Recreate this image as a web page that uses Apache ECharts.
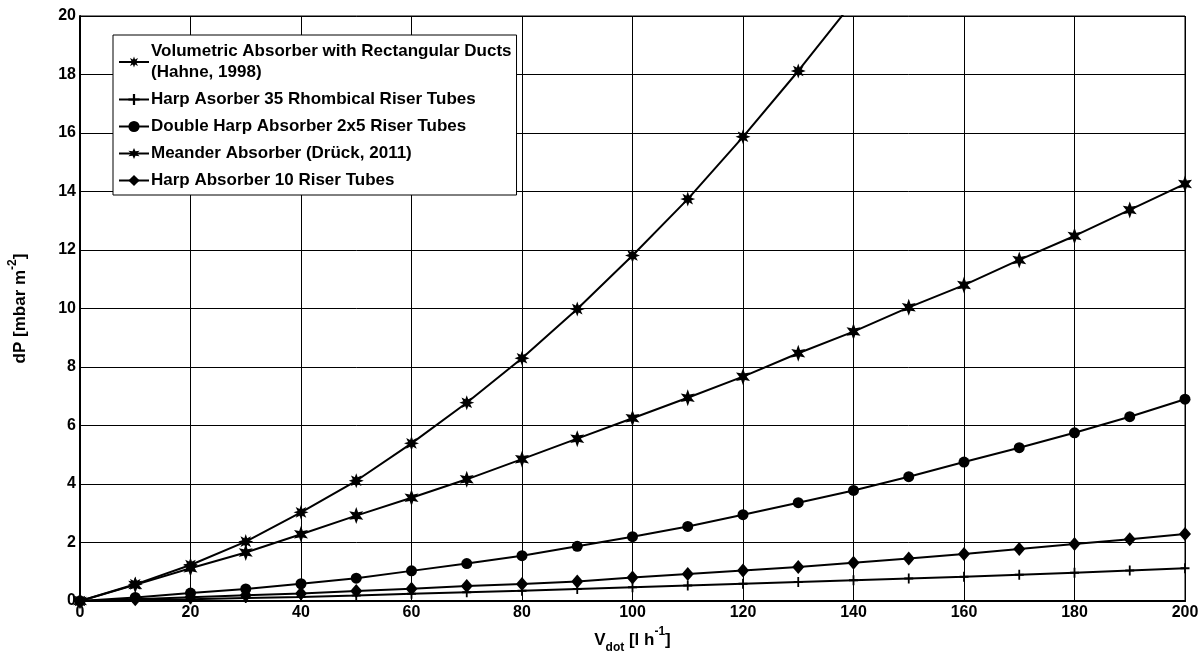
<!DOCTYPE html>
<html>
<head>
<meta charset="utf-8">
<script src="https://cdn.jsdelivr.net/npm/echarts@6/dist/echarts.min.js"></script>
<style>
    html, body {margin: 0; padding: 0; background: #fff;}
    #chartBox {width: 1203px; height: 653px;}
</style>
</head>
<body>
<div id="chartBox"></div>
<script>
// flow rate [l/h]
var flow = [0, 10, 20, 30, 40, 50, 60, 70, 80, 90, 100, 110, 120, 130, 140, 150, 160, 170, 180, 190, 200];
var volumetric = [0, 0.57, 1.23, 2.03, 3.03, 4.11, 5.39, 6.78, 8.30, 9.98, 11.81, 13.74, 15.87, 18.12, 20.5];
var harp35 = [0, 0.03, 0.06, 0.10, 0.14, 0.19, 0.25, 0.30, 0.35, 0.41, 0.47, 0.53, 0.59, 0.65, 0.71, 0.77, 0.83, 0.90, 0.97, 1.04, 1.12];
var doubleHarp = [0, 0.12, 0.27, 0.41, 0.59, 0.78, 1.03, 1.28, 1.55, 1.87, 2.20, 2.55, 2.95, 3.36, 3.78, 4.25, 4.75, 5.24, 5.75, 6.30, 6.90];
var meander = [0, 0.55, 1.12, 1.66, 2.28, 2.92, 3.53, 4.16, 4.85, 5.55, 6.25, 6.95, 7.67, 8.47, 9.21, 10.04, 10.80, 11.66, 12.48, 13.37, 14.26];
var harp10 = [0, 0.06, 0.13, 0.20, 0.26, 0.34, 0.42, 0.51, 0.58, 0.67, 0.80, 0.92, 1.04, 1.16, 1.31, 1.45, 1.61, 1.78, 1.95, 2.11, 2.29];
var names = [
    'Volumetric Absorber with Rectangular Ducts\n(Hahne, 1998)',
    'Harp Asorber 35 Rhombical Riser Tubes',
    'Double Harp Absorber 2x5 Riser Tubes',
    'Meander Absorber (Drück, 2011)',
    'Harp Absorber 10 Riser Tubes'
];

var font = "'Liberation Sans', Arial, sans-serif";

function pairs(ys) {
    var out = [];
    for (var i = 0; i < ys.length; i++) {
        out.push([flow[i], ys[i]]);
    }
    return out;
}

// star shaped marker as svg path
function starPath(n, inner) {
    var d = '';
    for (var i = 0; i < n * 2; i++) {
        var r = (i % 2 == 0) ? 50 : 50 * inner;
        var a = -Math.PI / 2 + i * Math.PI / n;
        var x = (50 + r * Math.cos(a)).toFixed(2);
        var y = (50 + r * Math.sin(a)).toFixed(2);
        d += (i == 0 ? 'M' : 'L') + x + ',' + y;
    }
    return 'path://' + d + 'Z';
}

function makeSeries(name, ys, symbol, size) {
    return {
        name: name,
        type: 'line',
        data: pairs(ys),
        symbol: symbol,
        symbolSize: size,
        showAllSymbol: true,
        clip: true,
        lineStyle: {color: '#000', width: 2},
        itemStyle: {color: '#000', borderWidth: 0},
        emphasis: {disabled: true},
        animation: false
    };
}

var myChart1 = echarts.init(document.getElementById('chartBox'));
var option = {
    backgroundColor: '#fff',
    animation: false,
    textStyle: {fontFamily: font},
    grid: {
        left: 80, right: 18, top: 16, bottom: 52,
        outerBoundsMode: 'none',
        containLabel: false,
        show: true, borderColor: '#000', borderWidth: 1
    },
    legend: {
        orient: 'vertical',
        left: 113,
        top: 35,
        padding: [6, 5, 4, 5],
        itemGap: 6,
        itemWidth: 30,
        itemHeight: 14,
        backgroundColor: '#fff',
        borderColor: '#000',
        borderWidth: 1,
        textStyle: {fontFamily: font, fontWeight: 'bold', fontSize: 17, color: '#000', lineHeight: 21, padding: [0, 0, 0, -3]},
        data: names
    },
    xAxis: [{
        type: 'value',
        min: 0,
        max: 200,
        interval: 20,
        name: '{b|V}{sub|dot}{b| [l h}{sup|-1}{b|]}',
        nameLocation: 'middle',
        nameGap: 23,
        nameTextStyle: {
            rich: {
                b: {fontFamily: font, fontWeight: 'bold', fontSize: 17, color: '#000', lineHeight: 28},
                sub: {fontFamily: font, fontWeight: 'bold', fontSize: 12, color: '#000', lineHeight: 12, verticalAlign: 'bottom'},
                sup: {fontFamily: font, fontWeight: 'bold', fontSize: 12, color: '#000', lineHeight: 16, verticalAlign: 'top'}
            }
        },
        axisLine: {show: true, onZero: false, lineStyle: {color: '#000', width: 2}},
        axisTick: {show: false},
        axisLabel: {color: '#000', fontWeight: 'bold', fontSize: 16, margin: 4, fontFamily: font},
        splitLine: {show: true, lineStyle: {color: '#000', width: 1}}
    }, {
        type: 'value',
        position: 'top',
        min: 0,
        max: 200,
        interval: 20,
        axisLine: {show: true, lineStyle: {color: '#000', width: 2}},
        axisTick: {show: false},
        axisLabel: {show: false},
        splitLine: {show: false}
    }],
    yAxis: {
        type: 'value',
        min: 0,
        max: 20,
        interval: 2,
        name: '{b|dP [mbar m}{sup|-2}{b|]}',
        nameLocation: 'middle',
        nameGap: 47,
        nameTextStyle: {
            rich: {
                b: {fontFamily: font, fontWeight: 'bold', fontSize: 17, color: '#000', lineHeight: 26},
                sup: {fontFamily: font, fontWeight: 'bold', fontSize: 12, color: '#000', lineHeight: 15, verticalAlign: 'top'}
            }
        },
        axisLine: {show: true, onZero: false, lineStyle: {color: '#000', width: 2}},
        axisTick: {show: false},
        axisLabel: {color: '#000', fontWeight: 'bold', fontSize: 16, margin: 4, fontFamily: font},
        splitLine: {show: true, lineStyle: {color: '#000', width: 1}}
    },
    series: [
        makeSeries(names[0], volumetric, starPath(8, 0.5), 15),
        makeSeries(names[1], harp35, 'path://M4,0h2v4h4v2h-4v4h-2v-4h-4v-2h4z', [9, 10]),
        makeSeries(names[2], doubleHarp, 'circle', 11),
        makeSeries(names[3], meander, starPath(6, 0.45), [14, 17]),
        makeSeries(names[4], harp10, 'diamond', [12, 14])
    ]
};
myChart1.setOption(option);
</script>
</body>
</html>
